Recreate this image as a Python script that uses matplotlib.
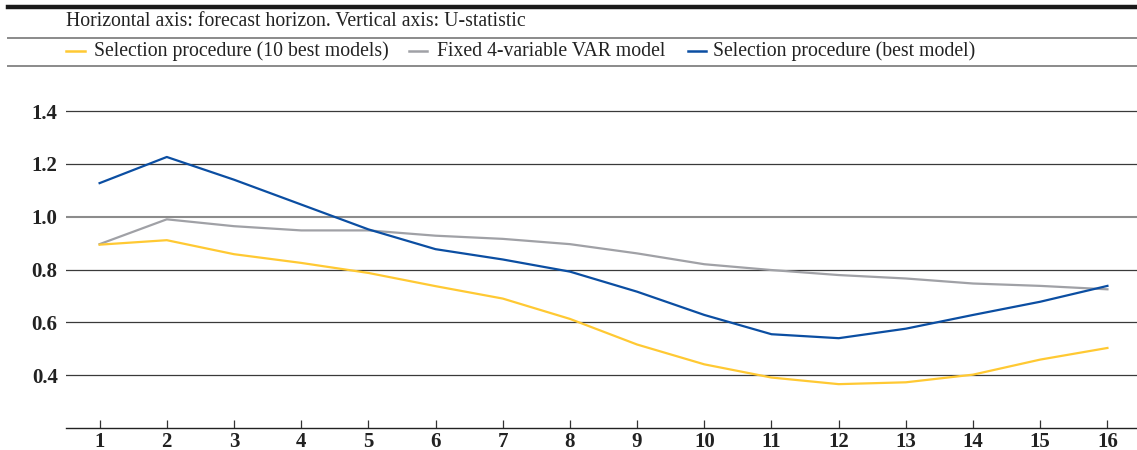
import matplotlib.pyplot as plt
from matplotlib.lines import Line2D

plt.rcParams['font.family'] = ['Liberation Serif', 'DejaVu Serif']

horizons = list(range(1, 17))
ten_best = [0.894, 0.911, 0.858, 0.825, 0.787, 0.737, 0.690, 0.613,
            0.516, 0.441, 0.391, 0.366, 0.373, 0.402, 0.459, 0.503]
fixed_var = [0.896, 0.990, 0.964, 0.948, 0.948, 0.928, 0.916, 0.896,
             0.861, 0.820, 0.798, 0.779, 0.766, 0.747, 0.738, 0.725]
best_model = [1.127, 1.226, 1.140, 1.046, 0.952, 0.877, 0.838, 0.792,
              0.716, 0.628, 0.555, 0.540, 0.576, 0.628, 0.678, 0.738]
yticks = [0.4, 0.6, 0.8, 1.0, 1.2, 1.4]

labels = ["Selection procedure (10 best models)",
          "Fixed 4-variable VAR model",
          "Selection procedure (best model)"]
colors = ["#FFC933", "#A0A1A6", "#0B4EA2"]

W, H = 1137, 450
fig = plt.figure(figsize=(W / 100, H / 100), dpi=100)

# header rules
fig.add_artist(Line2D([8 / W, 1], [1 - 7 / H] * 2, color="#1a1a1a", lw=3.2))
fig.add_artist(Line2D([8 / W, 1], [1 - 38 / H] * 2, color="#8a8a8a", lw=1.4))
fig.add_artist(Line2D([8 / W, 1], [1 - 66 / H] * 2, color="#8a8a8a", lw=1.4))
fig.text(66 / W, 1 - 21 / H, "Horizontal axis: forecast horizon. Vertical axis: U-statistic",
         fontsize=14.2, va="center", ha="left", color="#222222")

# legend row
leg_x = [(66, 85, 94), (409, 427, 437), (688, 706, 713)]
for (x0, x1, xt), lab, c in zip(leg_x, labels, colors):
    fig.add_artist(Line2D([x0 / W, x1 / W], [1 - 51 / H] * 2, color=c, lw=1.8))
    fig.text(xt / W, 1 - 51 / H, lab, fontsize=14.2, va="center", ha="left", color="#222222")

ax = fig.add_axes([66 / W, 22 / H, 1 - 66 / W, (428 - 84.6) / H])
for vals, c in zip([fixed_var, ten_best, best_model], [colors[1], colors[0], colors[2]]):
    ax.plot(horizons, vals, color=c, lw=1.6, zorder=3)

for y in yticks:
    if y == 1.0:
        ax.axhline(y, color="#8c8c8c", lw=1.5, zorder=1)
    else:
        ax.axhline(y, color="#3a3a3a", lw=0.9, zorder=1)

ax.set_xlim(0.5, 16.44)
ax.set_ylim(0.2, 1.5)
ax.set_xticks(horizons)
ax.set_yticks(yticks)
ax.set_yticklabels([f"{v:.1f}" for v in yticks])
for s in ["top", "right", "left"]:
    ax.spines[s].set_visible(False)
ax.spines["bottom"].set_color("#222222")
ax.spines["bottom"].set_linewidth(1.0)
ax.tick_params(axis="x", direction="in", length=6, width=0.9, color="#333333",
               labelsize=15, pad=3)
ax.tick_params(axis="y", length=0, labelsize=15, pad=6)
for t in ax.get_xticklabels() + ax.get_yticklabels():
    t.set_fontweight("bold")
    t.set_color("#222222")

fig.savefig("out.png", dpi=100)
